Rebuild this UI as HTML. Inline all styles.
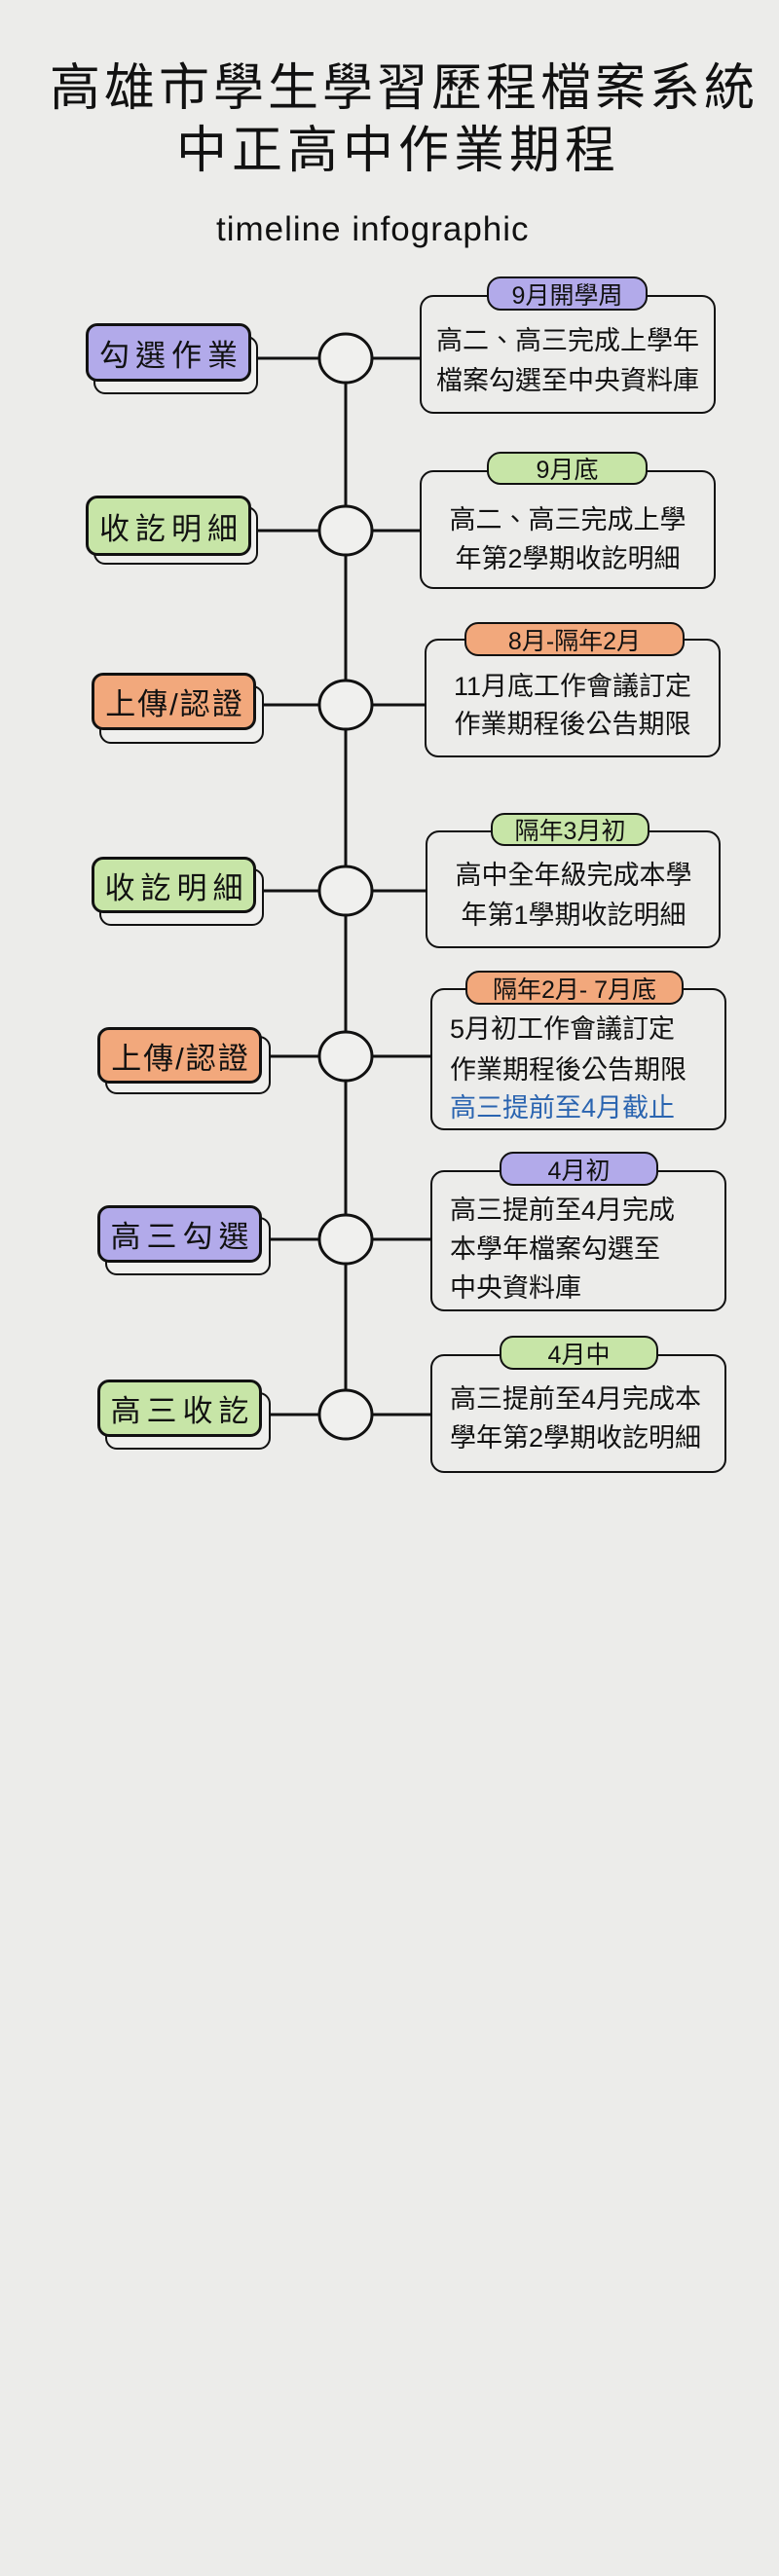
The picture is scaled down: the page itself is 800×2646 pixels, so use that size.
<!DOCTYPE html>
<html><head><meta charset="utf-8"><style>
*{margin:0;padding:0;box-sizing:border-box}
body{width:800px;height:2646px;background:#ececea;position:relative;overflow:hidden;font-family:"Liberation Sans","Noto Sans CJK TC",sans-serif;color:#111}
.a{position:absolute}
.t{white-space:nowrap}
.pill{position:absolute;border:3px solid #111;border-radius:12px}
.sh{position:absolute;border:2.5px solid #111;border-radius:12px;background:#efefed}
.pl{display:flex;align-items:center;justify-content:center;font-size:31px;letter-spacing:6px;padding-left:6px;white-space:nowrap}
.pl.s{letter-spacing:2px;padding-left:2px}
.box{position:absolute;border:2.5px solid #111;border-radius:14px}
.tag{position:absolute;border:2.5px solid #111;border-radius:14px;display:flex;align-items:center;justify-content:center;font-size:25px;white-space:nowrap}
.tx{position:absolute;font-size:27px;white-space:nowrap;line-height:40px}
.pu{background:#b2aaea}.gr{background:#c7e5a7}.or{background:#f2a87c}
</style></head><body>
<div class="a t" style="left:51px;top:60px;font-size:52px;letter-spacing:4px;line-height:62px">高雄市學生學習歷程檔案系統</div>
<div class="a t" style="left:181px;top:124px;font-size:52px;letter-spacing:5px;line-height:62px">中正高中作業期程</div>
<div class="a t" style="left:222px;top:216px;font-size:35px;line-height:40px;letter-spacing:1px">timeline infographic</div>

<svg class="a" style="left:0;top:0" width="800" height="1600">
<g stroke="#111" stroke-width="3" fill="#f0f0ee">
<line x1="355" y1="368" x2="355" y2="1453"/>
<line x1="258" y1="368" x2="431" y2="368"/>
<line x1="258" y1="545" x2="431" y2="545"/>
<line x1="271" y1="724" x2="436" y2="724"/>
<line x1="271" y1="915" x2="437" y2="915"/>
<line x1="278" y1="1085" x2="442" y2="1085"/>
<line x1="278" y1="1273" x2="442" y2="1273"/>
<line x1="278" y1="1453" x2="442" y2="1453"/>
<ellipse cx="355" cy="368" rx="27" ry="25"/>
<ellipse cx="355" cy="545" rx="27" ry="25"/>
<ellipse cx="355" cy="724" rx="27" ry="25"/>
<ellipse cx="355" cy="915" rx="27" ry="25"/>
<ellipse cx="355" cy="1085" rx="27" ry="25"/>
<ellipse cx="355" cy="1273" rx="27" ry="25"/>
<ellipse cx="355" cy="1453" rx="27" ry="25"/>
</g></svg>

<div class="sh" style="left:96px;top:345px;width:169px;height:60px"></div>
<div class="pill pu pl" style="left:88px;top:332px;width:170px;height:60px">勾選作業</div>
<div class="sh" style="left:96px;top:520px;width:169px;height:60px"></div>
<div class="pill gr pl" style="left:88px;top:509px;width:170px;height:62px">收訖明細</div>
<div class="sh" style="left:102px;top:704px;width:169px;height:60px"></div>
<div class="pill or pl s" style="left:94px;top:691px;width:169px;height:59px">上傳/認證</div>
<div class="sh" style="left:102px;top:892px;width:169px;height:59px"></div>
<div class="pill gr pl" style="left:94px;top:880px;width:169px;height:58px">收訖明細</div>
<div class="sh" style="left:108px;top:1064px;width:170px;height:60px"></div>
<div class="pill or pl s" style="left:100px;top:1055px;width:169px;height:58px">上傳/認證</div>
<div class="sh" style="left:108px;top:1250px;width:170px;height:60px"></div>
<div class="pill pu pl" style="left:100px;top:1238px;width:169px;height:59px">高三勾選</div>
<div class="sh" style="left:108px;top:1430px;width:170px;height:59px"></div>
<div class="pill gr pl" style="left:100px;top:1417px;width:169px;height:59px">高三收訖</div>

<div class="box" style="left:431px;top:303px;width:304px;height:122px"></div>
<div class="tag pu" style="left:500px;top:284px;width:165px;height:35px">9月開學周</div>
<div class="tx" style="left:433px;width:300px;text-align:center;top:330px">高二、高三完成上學年</div>
<div class="tx" style="left:433px;width:300px;text-align:center;top:371px">檔案勾選至中央資料庫</div>

<div class="box" style="left:431px;top:483px;width:304px;height:122px"></div>
<div class="tag gr" style="left:500px;top:464px;width:165px;height:34px">9月底</div>
<div class="tx" style="left:433px;width:300px;text-align:center;top:514px">高二、高三完成上學</div>
<div class="tx" style="left:433px;width:300px;text-align:center;top:554px">年第2學期收訖明細</div>

<div class="box" style="left:436px;top:656px;width:304px;height:122px"></div>
<div class="tag or" style="left:477px;top:639px;width:226px;height:35px">8月-隔年2月</div>
<div class="tx" style="left:438px;width:300px;text-align:center;top:685px">11月底工作會議訂定</div>
<div class="tx" style="left:438px;width:300px;text-align:center;top:724px">作業期程後公告期限</div>

<div class="box" style="left:437px;top:853px;width:303px;height:121px"></div>
<div class="tag gr" style="left:504px;top:835px;width:163px;height:34px">隔年3月初</div>
<div class="tx" style="left:439px;width:300px;text-align:center;top:879px">高中全年級完成本學</div>
<div class="tx" style="left:439px;width:300px;text-align:center;top:920px">年第1學期收訖明細</div>

<div class="box" style="left:442px;top:1015px;width:304px;height:146px"></div>
<div class="tag or" style="left:478px;top:997px;width:224px;height:35px">隔年2月- 7月底</div>
<div class="tx" style="left:462px;top:1037px">5月初工作會議訂定</div>
<div class="tx" style="left:462px;top:1079px">作業期程後公告期限</div>
<div class="tx" style="left:462px;top:1118px;color:#2a64b0">高三提前至4月截止</div>

<div class="box" style="left:442px;top:1202px;width:304px;height:145px"></div>
<div class="tag pu" style="left:513px;top:1183px;width:163px;height:35px">4月初</div>
<div class="tx" style="left:462px;top:1223px">高三提前至4月完成</div>
<div class="tx" style="left:462px;top:1263px">本學年檔案勾選至</div>
<div class="tx" style="left:462px;top:1303px">中央資料庫</div>

<div class="box" style="left:442px;top:1391px;width:304px;height:122px"></div>
<div class="tag gr" style="left:513px;top:1372px;width:163px;height:35px">4月中</div>
<div class="tx" style="left:462px;top:1417px">高三提前至4月完成本</div>
<div class="tx" style="left:462px;top:1457px">學年第2學期收訖明細</div>
</body></html>
